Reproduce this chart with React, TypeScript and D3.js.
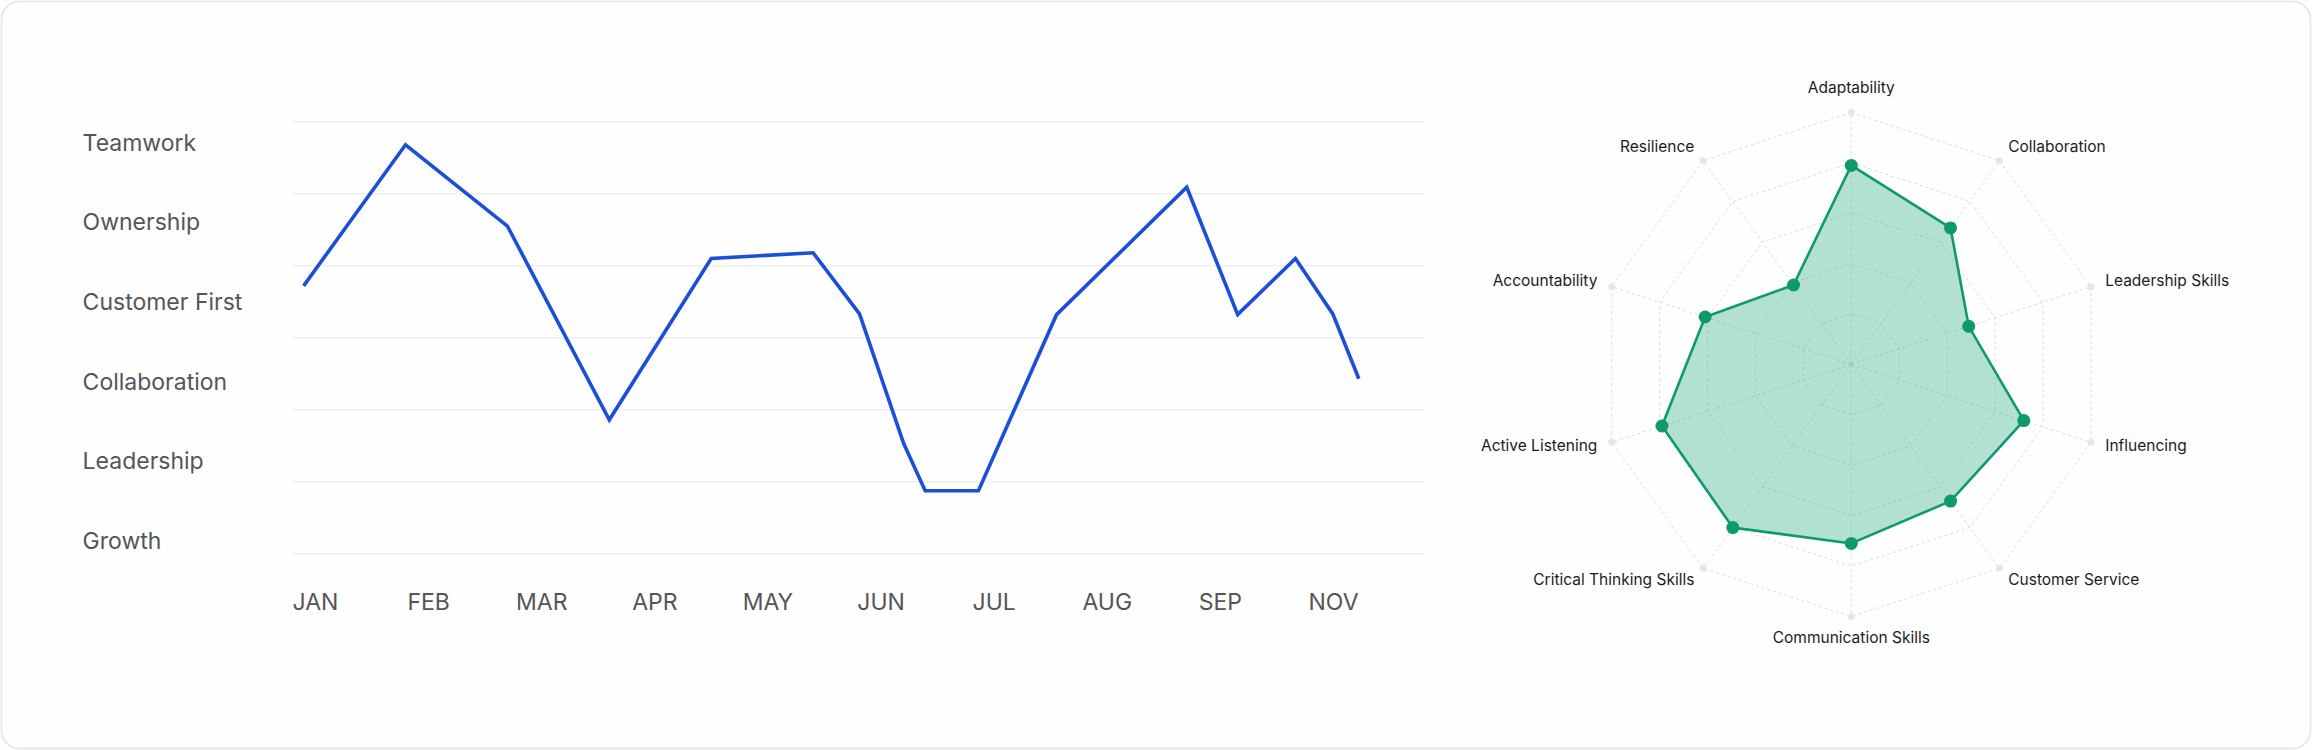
import React from "react";
import * as d3 from "d3";

const W = 2312;
const H = 750;

// ---- line chart data ----
const categoryLabels = ["Teamwork", "Ownership", "Customer First", "Collaboration", "Leadership", "Growth"];
const monthLabels = ["JAN", "FEB", "MAR", "APR", "MAY", "JUN", "JUL", "AUG", "SEP", "NOV"];
const lineX = [0.1, 1.0, 1.9, 2.8, 3.7, 4.6, 5.01, 5.4, 5.59, 6.06, 6.75, 7.9, 8.35, 8.86, 9.19, 9.42];
const lineY = [3.72, 5.68, 4.55, 1.86, 4.1, 4.18, 3.33, 1.53, 0.875, 0.875, 3.32, 5.09, 3.32, 4.1, 3.33, 2.43];
const gridValues = [0, 1, 2, 3, 4, 5, 6];

// ---- radar data ----
const radarAxes = [
  "Adaptability",
  "Collaboration",
  "Leadership Skills",
  "Influencing",
  "Customer Service",
  "Communication Skills",
  "Critical Thinking Skills",
  "Active Listening",
  "Accountability",
  "Resilience",
];
const radarValues = [79, 67, 49, 72, 67, 71, 80, 79, 61, 39];
const radarLevels = [20, 40, 60, 80, 100];

export default function App() {
  // line chart scales
  const x = d3.scaleLinear().domain([0, 10]).range([292.3, 1424.5]);
  const y = d3.scaleLinear().domain([0, 6]).range([553.7, 121.7]);
  const catY = d3.scalePoint<string>().domain(categoryLabels).range([150.7, 548.8]);
  const monthX = d3.scalePoint<string>().domain(monthLabels).range([315.5, 1333.5]);
  const pts: [number, number][] = lineX.map((v, i) => [v, lineY[i]]);
  const linePath = d3
    .line<[number, number]>()
    .x((d) => x(d[0]))
    .y((d) => y(d[1]))(pts) as string;

  // radar scales
  const cx = 1851.3;
  const cy = 364.5;
  const R = 252;
  const r = d3.scaleLinear().domain([0, 100]).range([0, R]);
  const n = radarAxes.length;
  const ang = (i: number) => -Math.PI / 2 + (i * 2 * Math.PI) / n;
  const pos = (i: number, v: number): [number, number] => [
    cx + r(v) * Math.cos(ang(i)),
    cy + r(v) * Math.sin(ang(i)),
  ];
  const ringPath = (lv: number) =>
    d3.line<number>().x((_, i) => pos(i, lv)[0]).y((_, i) => pos(i, lv)[1]).curve(d3.curveLinearClosed)(
      radarAxes.map((_, i) => i)
    ) as string;
  const areaPath = d3
    .line<number>()
    .x((v, i) => pos(i, v)[0])
    .y((v, i) => pos(i, v)[1])
    .curve(d3.curveLinearClosed)(radarValues) as string;

  return (
    <svg
      width={W}
      height={H}
      viewBox={`0 0 ${W} ${H}`}
      style={{ position: "absolute", left: 0, top: 0, fontFamily: "Inter, 'Noto Sans', sans-serif" }}
    >
      <rect x={0} y={0} width={W} height={H} fill="#ffffff" />
      <rect x={1.5} y={1.5} width={W - 3} height={H - 3} rx={18} fill="#fefefe" stroke="#e9e9ec" strokeWidth={2} />

      {/* line chart grid */}
      {gridValues.map((g) => (
        <line key={g} x1={x(0)} x2={x(10)} y1={y(g)} y2={y(g)} stroke="#efeff1" strokeWidth={1.6} />
      ))}
      {categoryLabels.map((c) => (
        <text key={c} x={82.6} y={catY(c)} fontSize={23} fill="#555558">
          {c}
        </text>
      ))}
      {monthLabels.map((m) => (
        <text key={m} x={monthX(m)} y={610} fontSize={23} fill="#555558" textAnchor="middle">
          {m}
        </text>
      ))}
      <path d={linePath} fill="none" stroke="#1a4fd8" strokeWidth={3.6} strokeLinejoin="miter" />

      {/* radar */}
      {radarLevels.map((lv) => (
        <path key={lv} d={ringPath(lv)} fill="none" stroke="#dcdcde" strokeWidth={1} strokeDasharray="3 3" />
      ))}
      {radarAxes.map((a, i) => {
        const [ex, ey] = pos(i, 100);
        return <line key={a} x1={cx} y1={cy} x2={ex} y2={ey} stroke="#dcdcde" strokeWidth={1} strokeDasharray="3 3" />;
      })}
      {radarAxes.map((a, i) => {
        const [ex, ey] = pos(i, 100);
        return <circle key={a} cx={ex} cy={ey} r={3.5} fill="#e6e6e8" />;
      })}
      <path d={areaPath} fill="#14a57a" fillOpacity={0.32} stroke="#0f9a6e" strokeWidth={2.6} strokeLinejoin="round" />
      {radarValues.map((v, i) => {
        const [px, py] = pos(i, v);
        return <circle key={i} cx={px} cy={py} r={6.5} fill="#0f9a6e" />;
      })}
      {radarAxes.map((a, i) => {
        const c = Math.cos(ang(i));
        const s = Math.sin(ang(i));
        const [ex, ey] = pos(i, 100);
        const anchor = c > 0.01 ? "start" : c < -0.01 ? "end" : "middle";
        const tx = ex + 15 * c;
        let ty = ey + 15 * s + 4;
        if (Math.abs(c) <= 0.01) ty = s < 0 ? ey - 19.5 : ey + 26.5;
        return (
          <text key={a} x={tx} y={ty} textAnchor={anchor} fontSize={15.5} fill="#1c1c1e">
            {a}
          </text>
        );
      })}
    </svg>
  );
}
